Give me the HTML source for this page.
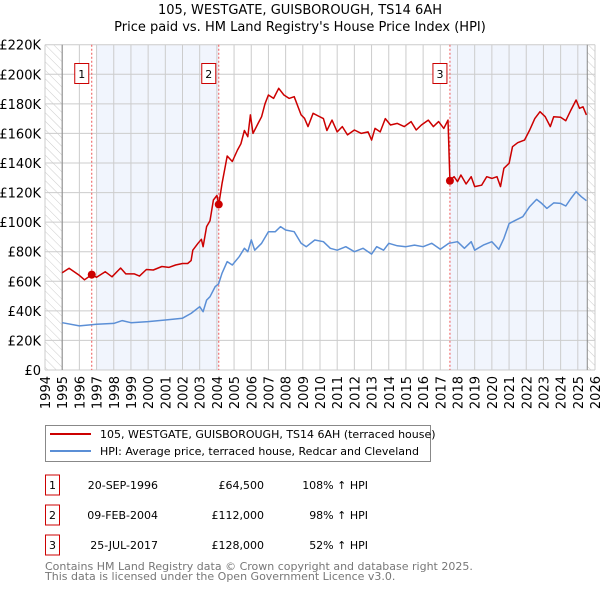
<!DOCTYPE html>
<html><head><meta charset="utf-8"><style>
body{margin:0;background:#fff;width:600px;height:590px;overflow:hidden;font-family:"DejaVu Sans","Liberation Sans",sans-serif}
svg text{font-family:"DejaVu Sans","Liberation Sans",sans-serif}
</style></head><body>
<svg id="c" width="600" height="590" xmlns="http://www.w3.org/2000/svg">
<defs><pattern id="hatch" width="6" height="6" patternUnits="userSpaceOnUse" patternTransform="rotate(-45)"><line x1="0" y1="0" x2="0" y2="6" stroke="#ccc" stroke-width="1"/></pattern></defs>
<text x="300" y="14" text-anchor="middle" font-size="13">105, WESTGATE, GUISBOROUGH, TS14 6AH</text>
<text x="300" y="31" text-anchor="middle" font-size="13">Price paid vs. HM Land Registry's House Price Index (HPI)</text>
<g id="plot"></g>
<g>
<rect x="45.5" y="425.5" width="385" height="36" fill="#fff" stroke="#888"/>
<line x1="50" y1="434" x2="91" y2="434" stroke="#cc0000" stroke-width="2"/>
<text x="100" y="438" font-size="11">105, WESTGATE, GUISBOROUGH, TS14 6AH (terraced house)</text>
<line x1="50" y1="451" x2="91" y2="451" stroke="#5b8fd6" stroke-width="2"/>
<text x="100" y="455" font-size="11">HPI: Average price, terraced house, Redcar and Cleveland</text>
</g>
<g id="table" font-size="11"></g>
<text x="45" y="570" font-size="11" fill="#777">Contains HM Land Registry data © Crown copyright and database right 2025.</text>
<text x="45" y="580" font-size="11" fill="#777">This data is licensed under the Open Government Licence v3.0.</text>
</svg>
<script>
const redYears=[1995.0,1995.4,1996.0,1996.3,1996.72,1997.0,1997.5,1997.9,1998.4,1998.7,1999.2,1999.5,1999.9,2000.3,2000.8,2001.2,2001.6,2002.0,2002.3,2002.5,2002.6,2002.9,2003.1,2003.2,2003.4,2003.6,2003.8,2004.0,2004.11,2004.3,2004.5,2004.6,2004.9,2005.2,2005.4,2005.6,2005.8,2005.95,2006.1,2006.4,2006.6,2006.8,2007.0,2007.3,2007.6,2007.9,2008.2,2008.5,2008.9,2009.1,2009.3,2009.6,2009.9,2010.2,2010.4,2010.7,2011.0,2011.3,2011.6,2012.0,2012.4,2012.8,2013.0,2013.2,2013.5,2013.8,2014.1,2014.5,2014.9,2015.3,2015.6,2015.9,2016.3,2016.6,2016.9,2017.2,2017.45,2017.56,2017.8,2018.0,2018.2,2018.5,2018.8,2019.0,2019.4,2019.7,2020.0,2020.3,2020.5,2020.7,2021.0,2021.2,2021.5,2021.9,2022.2,2022.5,2022.8,2023.1,2023.4,2023.6,2024.0,2024.3,2024.6,2024.9,2025.1,2025.3,2025.5];
const redValues=[65.8,68.8,64,61,64.5,62.7,66.5,63,69,65,65,63.5,68,67.6,70,69.4,71,72,72,74,81,85.7,88.4,83.4,97,101,115,118,112,126,138.6,144.7,141,148.8,153,162,157.8,172.5,160,166.8,171.3,180,186,183.7,190.5,186,183.7,184.8,172.5,170.2,164.6,173.6,171.8,170,162,169,161,164.6,159,162.3,160,161,155.5,163.4,161,170,165.7,166.8,164.6,168,162.3,165.7,169,164.6,168,163.4,169,128.5,130.7,127.4,131.9,125.8,130.7,124,125,130.7,129.6,130.7,124,136.4,139.8,151,153.7,155.5,162.3,170,174.7,171.3,164.6,171.3,170.9,168.6,175.8,182.6,177,178,172.5];
const hpiYears=[1995.0,1996.0,1997.0,1998.0,1998.5,1999.0,2000.0,2001.0,2002.0,2002.5,2003.0,2003.2,2003.4,2003.6,2003.9,2004.1,2004.3,2004.6,2004.9,2005.3,2005.6,2005.8,2006.0,2006.2,2006.6,2007.0,2007.4,2007.7,2008.0,2008.5,2008.9,2009.2,2009.7,2010.2,2010.6,2011.0,2011.5,2012.0,2012.5,2013.0,2013.3,2013.7,2014.0,2014.5,2015.0,2015.5,2016.0,2016.5,2017.0,2017.5,2018.0,2018.4,2018.8,2019.0,2019.5,2020.0,2020.4,2020.7,2021.0,2021.4,2021.8,2022.2,2022.6,2022.9,2023.2,2023.6,2024.0,2024.3,2024.6,2024.9,2025.2,2025.5];
const hpiValues=[32,29.8,31,31.5,33.4,32,32.7,33.8,35,38.3,42.8,39.4,47.3,49.6,56.4,58.2,65.4,73.3,71,76.6,82.3,80,88,81,85.7,93.5,93.5,97,94.7,93.5,85.7,83.4,87.9,86.8,82.3,81,83.4,80,82.3,78.4,83.4,81,85.7,84,83.4,84.5,83.4,85.7,81.6,85.7,86.8,82.3,86.8,81,84.5,86.8,81.6,89,99,101.4,103.7,110.5,115.4,112.7,109.3,113,112.7,110.9,116,120.6,117.2,114.5];
const saleLabels=["1","2","3"];
const saleYears=[1996.72,2004.11,2017.56];
const saleValues=[64.5,112,128];
const saleDates=["20-SEP-1996","09-FEB-2004","25-JUL-2017"];
const salePrices=["£64,500","£112,000","£128,000"];
const saleHpi=["108% ↑ HPI","98% ↑ HPI","52% ↑ HPI"];
const yTicks=[0,20,40,60,80,100,120,140,160,180,200,220];
const xTicks=[];for(let y=1994;y<=2026;y++)xTicks.push(y);

const L=45,R=595,T=44.7,B=370,x0=1994,x1=2026,yMax=220,dataEnd=2025.55;
const X=v=>L+(v-x0)/(x1-x0)*(R-L);
const Y=v=>B-v/yMax*(B-T);
const NS="http://www.w3.org/2000/svg";
const plot=document.getElementById('plot');
function mk(tag,attrs,parent){const e=document.createElementNS(NS,tag);for(const k in attrs)e.setAttribute(k,attrs[k]);(parent||plot).appendChild(e);return e;}
let e;
e=mk('rect',{x:L,y:T,width:R-L,height:B-T,fill:'#fff'});


e=mk('rect',{x:X(saleYears[0])+5,y:T,width:X(saleYears[1])-X(saleYears[0])-5,height:B-T,fill:'#eef3fc',opacity:0.8});


e=mk('rect',{x:X(saleYears[2]),y:T,width:X(dataEnd)-X(saleYears[2]),height:B-T,fill:'#eef3fc',opacity:0.8});


e=mk('rect',{x:L,y:T,width:X(1995)-L,height:B-T,fill:'url(#hatch)'});


e=mk('rect',{x:X(dataEnd),y:T,width:R-X(dataEnd),height:B-T,fill:'url(#hatch)'});


yTicks.forEach(t=>{
 e=mk('line',{x1:L,x2:R,y1:Y(t),y2:Y(t),stroke:'#ccc','stroke-width':1});
 
 
 e=mk('text',{x:L-4,y:Y(t)+5,'text-anchor':'end','font-size':13});
 e.textContent=t===0?'£0':'£'+t+'K';
 
 
});
xTicks.forEach(t=>{
 e=mk('line',{x1:X(t),x2:X(t),y1:T,y2:B,stroke:'#ccc','stroke-width':1});
 
 
 e=mk('text',{x:0,y:0,'font-size':13,'text-anchor':'end',transform:`translate(${X(t)+5},${B+6}) rotate(-90)`});
 e.textContent=t;
 
 
});
e=mk('line',{x1:X(1995),x2:X(1995),y1:T,y2:B,stroke:'#888'});


e=mk('line',{x1:X(dataEnd),x2:X(dataEnd),y1:T,y2:B,stroke:'#888'});


saleYears.forEach((s,i)=>{
 e=mk('line',{x1:X(s),x2:X(s),y1:T,y2:B,stroke:'#e55','stroke-dasharray':'2,2','stroke-width':1});
 
 
 e=mk('rect',{x:X(s)-17,y:63.5,width:14,height:20,fill:'#fff',stroke:'#cc0000'});
 
 
 e=mk('text',{x:X(s)-10,y:78,'text-anchor':'middle','font-size':11});
 e.textContent=saleLabels[i];
 
 
});
const pts=(xs,vs)=>xs.map((v,i)=>X(v).toFixed(1)+','+Y(vs[i]).toFixed(1)).join(' ');
e=mk('polyline',{points:pts(hpiYears,hpiValues),fill:'none',stroke:'#5b8fd6','stroke-width':1.5,'stroke-linejoin':'round'});


e=mk('polyline',{points:pts(redYears,redValues),fill:'none',stroke:'#cc0000','stroke-width':1.5,'stroke-linejoin':'round'});


saleYears.forEach((s,i)=>{
 e=mk('circle',{cx:X(s),cy:Y(saleValues[i]),r:4,fill:'#cc0000'});
 
 
});
const tb=document.getElementById('table');
const rowY=[485,515,545];
saleLabels.forEach((l,i)=>{
 const cy=rowY[i];
 e=mk('rect',{x:45.5,y:cy-10,width:14,height:20,fill:'#fff',stroke:'#cc0000'},tb);
 
 
 e=mk('text',{x:52.5,y:cy+4,'text-anchor':'middle'},tb);e.textContent=l;
 
 
 e=mk('text',{x:158,y:cy+4,'text-anchor':'end'},tb);e.textContent=saleDates[i];
 
 
 e=mk('text',{x:264,y:cy+4,'text-anchor':'end'},tb);e.textContent=salePrices[i];
 
 
 e=mk('text',{x:368,y:cy+4,'text-anchor':'end'},tb);e.textContent=saleHpi[i];
 
 
});
</script>
</body></html>
